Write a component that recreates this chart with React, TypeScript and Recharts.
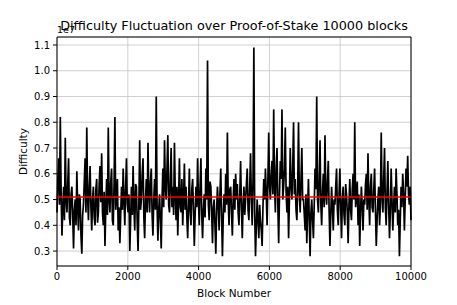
import { LineChart, Line, XAxis, YAxis, CartesianGrid, ReferenceLine, Label } from 'recharts';

// difficulty in units of 1e7 left to right (~23 blocks apart)
const difficulty = [
  0.45, 0.58, 0.66, 0.48, 0.82, 0.52, 0.36, 0.47, 0.55, 0.42, 0.74, 0.50, 0.45, 0.56, 0.66, 0.43, 0.40, 0.52,
  0.55, 0.44, 0.31, 0.46, 0.50, 0.40, 0.61, 0.47, 0.38, 0.52, 0.50, 0.36, 0.29, 0.44, 0.48, 0.57, 0.66, 0.45,
  0.78, 0.51, 0.42, 0.55, 0.63, 0.47, 0.38, 0.50, 0.55, 0.43, 0.40, 0.54, 0.58, 0.41, 0.45, 0.56, 0.63, 0.49,
  0.68, 0.45, 0.40, 0.53, 0.32, 0.47, 0.58, 0.44, 0.78, 0.50, 0.45, 0.57, 0.62, 0.42, 0.40, 0.56,
  0.82, 0.46, 0.50, 0.58, 0.38, 0.47, 0.33, 0.44, 0.55, 0.46, 0.62, 0.50, 0.40, 0.55, 0.66, 0.48, 0.45, 0.52,
  0.30, 0.42, 0.55, 0.44, 0.63, 0.47, 0.38, 0.56, 0.55, 0.41, 0.30, 0.48, 0.73, 0.46, 0.50, 0.60, 0.66, 0.43,
  0.35, 0.50, 0.58, 0.45, 0.72, 0.52, 0.45, 0.57, 0.62, 0.44, 0.36, 0.50, 0.58, 0.46, 0.90, 0.48, 0.34, 0.46,
  0.52, 0.42, 0.31, 0.50, 0.62, 0.47, 0.73, 0.55, 0.50, 0.62, 0.75, 0.48, 0.45, 0.58, 0.70, 0.47, 0.55, 0.44,
  0.72, 0.52, 0.42, 0.55,
  0.36, 0.50, 0.66, 0.47, 0.45, 0.58, 0.40, 0.50, 0.64, 0.46, 0.55, 0.43, 0.35, 0.48, 0.62, 0.45, 0.40, 0.54,
  0.58, 0.46, 0.32, 0.44, 0.55, 0.47, 0.66, 0.50, 0.40, 0.55, 0.66, 0.44, 0.35, 0.46, 0.52, 0.43, 0.62, 0.50,
  1.04, 0.48, 0.42, 0.57, 0.55, 0.45, 0.33, 0.47, 0.50, 0.40, 0.29, 0.46, 0.55, 0.48, 0.38, 0.52, 0.62, 0.44,
  0.28, 0.43, 0.52, 0.45, 0.60, 0.48, 0.76, 0.50, 0.40, 0.54, 0.55, 0.45, 0.36, 0.50, 0.58, 0.46, 0.60, 0.50,
  0.56, 0.45, 0.40, 0.52, 0.65, 0.47, 0.35, 0.48, 0.55, 0.44, 0.50, 0.56, 0.62, 0.46, 0.42, 0.55, 0.68, 0.50,
  0.40, 0.58, 1.09, 0.45, 0.28, 0.40, 0.50, 0.42, 0.35, 0.48, 0.42, 0.38, 0.32, 0.47, 0.58, 0.50, 0.62, 0.52,
  0.40, 0.58, 0.76, 0.55, 0.50, 0.60, 0.65, 0.52, 0.85, 0.56, 0.45, 0.62, 0.70, 0.48, 0.33, 0.52, 0.65, 0.58,
  0.85, 0.50, 0.55, 0.62, 0.78, 0.53, 0.45, 0.55, 0.35, 0.50, 0.70, 0.56, 0.50, 0.62, 0.80, 0.52,
  0.58, 0.46, 0.42, 0.55, 0.80, 0.52, 0.45, 0.58, 0.70, 0.50, 0.50, 0.44, 0.38, 0.52, 0.33, 0.46, 0.58, 0.42,
  0.28, 0.45, 0.50, 0.42, 0.35, 0.48, 0.62, 0.54, 0.90, 0.50, 0.45, 0.58, 0.73, 0.48, 0.40, 0.53, 0.60, 0.47,
  0.75, 0.52, 0.48, 0.57, 0.65, 0.46, 0.32, 0.44, 0.55, 0.47, 0.38, 0.50, 0.48, 0.55, 0.62, 0.46, 0.40, 0.52,
  0.62, 0.47, 0.35, 0.50, 0.55, 0.44, 0.40, 0.56, 0.52, 0.45, 0.33, 0.48, 0.58, 0.46, 0.42, 0.54, 0.60, 0.50,
  0.80, 0.47, 0.50, 0.57, 0.40, 0.52, 0.32, 0.45, 0.55, 0.48, 0.38, 0.50, 0.48, 0.56, 0.60, 0.46, 0.68, 0.50,
  0.40, 0.55, 0.60, 0.47, 0.45, 0.54, 0.62, 0.46, 0.32, 0.42, 0.50, 0.55, 0.40, 0.48, 0.76, 0.52, 0.45, 0.58,
  0.70, 0.47, 0.40, 0.53, 0.65, 0.48, 0.35, 0.45, 0.62, 0.50, 0.38, 0.47, 0.55, 0.45, 0.62, 0.52, 0.40, 0.46,
  0.28, 0.42, 0.55, 0.47, 0.60, 0.53, 0.38, 0.50, 0.62, 0.55, 0.67, 0.52, 0.48, 0.55, 0.42,
];
const meanDifficulty = 0.51;
const xTicks = [0, 2000, 4000, 6000, 8000, 10000];
const yTicks = [0.3, 0.4, 0.5, 0.6, 0.7, 0.8, 0.9, 1.0, 1.1];
const totalBlocks = 10000;

const data = difficulty.map((d, i) => ({
  block: (i * totalBlocks) / (difficulty.length - 1),
  difficulty: d,
}));

const font = 'DejaVu Sans, sans-serif';
const tickStyle = { fill: '#000', fontSize: 10, fontFamily: font };
const yMin = 0.242;
const yMax = 1.131;

export default function App() {
  return (
    <div style={{ position: 'absolute', left: 0, top: 0, width: 457, height: 305, fontFamily: font }}>
      <div style={{ position: 'absolute', left: 57, top: 24, fontSize: 9.5, color: '#000' }}>1e7</div>
      <div style={{ position: 'absolute', left: 0, width: 468, top: 18, textAlign: 'center', fontSize: 12.8, color: '#000', zIndex: 2 }}>
        Difficulty Fluctuation over Proof-of-Stake 10000 blocks
      </div>
      <LineChart width={457} height={305} data={data} margin={{ top: 37, right: 46, bottom: 0, left: 0 }}>
        <CartesianGrid stroke="#c4c4c4" strokeWidth={0.8} />
        <XAxis
          dataKey="block"
          type="number"
          domain={[0, totalBlocks]}
          ticks={xTicks}
          height={39}
          tick={tickStyle}
          tickSize={4}
          tickMargin={3}
          stroke="#000"
          interval={0}
        >
          <Label
            content={(props: any) => {
              const vb = props.viewBox;
              return (
                <text x={vb.x + vb.width / 2} y={vb.y + 31} textAnchor="middle" fontSize={10.5} fontFamily={font} fill="#000">
                  Block Number
                </text>
              );
            }}
          />
        </XAxis>
        <YAxis
          type="number"
          domain={[yMin, yMax]}
          allowDataOverflow
          ticks={yTicks}
          tickFormatter={(v: number) => v.toFixed(1)}
          width={57}
          tick={tickStyle}
          tickSize={4}
          tickMargin={3}
          stroke="#000"
          interval={0}
        >
          <Label
            content={(props: any) => {
              const vb = props.viewBox;
              const cx = vb.x + 23;
              const cy = vb.y + vb.height / 2;
              return (
                <text x={cx} y={cy} transform={`rotate(-90 ${cx} ${cy})`} textAnchor="middle" dominantBaseline="central" fontSize={10.5} fontFamily={font} fill="#000">
                  Difficulty
                </text>
              );
            }}
          />
        </YAxis>
        <Line type="linear" dataKey="difficulty" stroke="#000" strokeWidth={1.7} dot={false} isAnimationActive={false} />
        <ReferenceLine y={meanDifficulty} stroke="#ff0000" strokeWidth={1.6} />
        <ReferenceLine y={yMax} stroke="#000" strokeWidth={1} />
        <ReferenceLine x={totalBlocks} stroke="#000" strokeWidth={1} />
      </LineChart>
    </div>
  );
}
